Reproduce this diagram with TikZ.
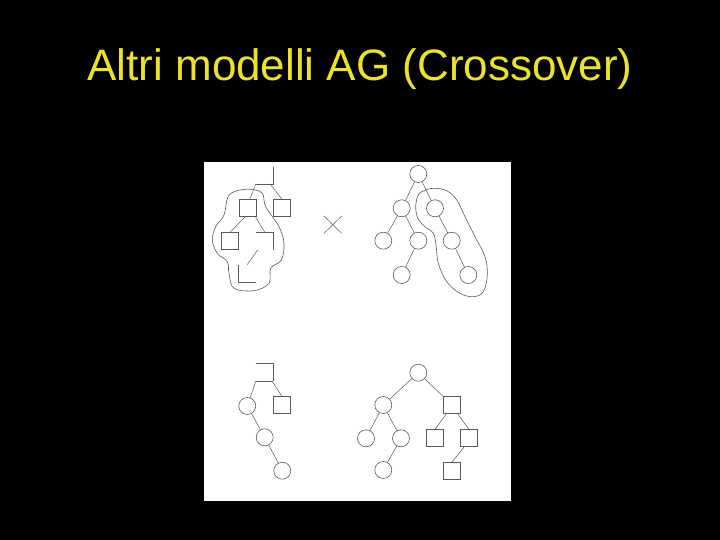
\documentclass[tikz,border=0pt]{standalone}
\usepackage{fontspec}
\setmainfont{Liberation Sans}
\definecolor{titleyellow}{RGB}{236,226,40}
\definecolor{linegray}{RGB}{90,90,90}
\begin{document}
\begin{tikzpicture}[x=1pt,y=-1pt,
  sq/.style={minimum size=17pt,inner sep=0pt,draw=none},
  sqbox/.style={sq,draw=linegray,line width=0.8pt},
  cir/.style={circle,minimum size=17pt,inner sep=0pt,draw=linegray,line width=0.6pt},
  edge/.style={draw=linegray,line width=0.5pt},
  part/.style={draw=linegray,line width=0.8pt},
  loop/.style={draw=linegray,line width=0.6pt}]
\useasboundingbox (0,0) rectangle (720,540);
\fill[black] (0,0) rectangle (720,540);
\node[font=\fontsize{44}{50}\selectfont,text=titleyellow,anchor=base] (title) at (360,81) {Altri modelli AG (Crossover)};
\fill[white] (204,162) rectangle (511,501);

% ---------- top-left tree ----------
\node[sq] (a1) at (264.5,175.3) {};
\draw[part] (a1.north east) -- (a1.south east) -- (a1.south west);
\node[sqbox] (a2) at (247.7,208.3) {};
\node[sqbox] (a3) at (282,208.3) {};
\node[sqbox] (a4) at (230.3,241) {};
\node[sq] (a5) at (264.8,241) {};
\draw[part] (a5.north west) -- (a5.north east) -- (a5.south east);
\node[sq] (a6) at (247.3,273.3) {};
\draw[part] (a6.north west) -- (a6.south west) -- (a6.south east);
\draw[edge] (a1.south west) -- ([xshift=2pt]a2.north);
\draw[edge] ([xshift=-3pt]a1.south east) -- (a3.north);
\draw[edge] ([xshift=-3pt]a2.south) -- (a4.north);
\draw[edge] ([xshift=-1pt]a2.south east) -- (a5.north);
\draw[edge] ([xshift=-7pt]a5.south) -- (a6.north);
\draw[loop] plot[smooth cycle,tension=0.6] coordinates {
  (250.7,189.3) (262.3,193.3) (265.7,206.7) (279,226.7) (284,243.3)
  (281.3,260) (270.7,268.3) (269,283.3) (254,290.7) (234,288.3)
  (229,273.3) (227.3,261.7) (217.3,253.3) (212.3,240) (215.7,226.7)
  (224,215) (228,196.7) (237.3,190.7)};

% ---------- cross ----------
\coordinate (x1) at (324,216);
\coordinate (x2) at (341.7,233.3);
\coordinate (x3) at (341.7,216);
\coordinate (x4) at (324,233.3);
\draw[edge] (x1) -- (x2);
\draw[edge] (x3) -- (x4);

% ---------- top-right tree ----------
\node[cir] (b1) at (418.3,174) {};
\node[cir] (b2) at (401.7,208.3) {};
\node[cir] (b3) at (435,208.3) {};
\node[cir] (b4) at (383.3,240.7) {};
\node[cir] (b5) at (418.3,240.7) {};
\node[cir] (b6) at (451.7,240.7) {};
\node[cir] (b7) at (401.7,275) {};
\node[cir] (b8) at (468.3,275) {};
\draw[edge] (b1) -- (b2);
\draw[edge] (b1) -- (b3);
\draw[edge] (b2) -- (b4);
\draw[edge] (b2) -- (b5);
\draw[edge] (b3) -- (b6);
\draw[edge] (b5) -- (b7);
\draw[edge] (b6) -- (b8);
\draw[loop] plot[smooth cycle,tension=0.6] coordinates {
  (421.7,191.7) (433.3,188.3) (446.7,190.7) (456.7,200) (465,216.7)
  (475,236.7) (485,256.7) (487.3,275) (483.3,291.7) (473.3,296.7)
  (460,293.3) (446.7,281.7) (438.3,263.3) (436,245) (433.3,233.3)
  (425,226.7) (418.3,219.3) (415.7,208.3) (417.3,197.3)};

% ---------- bottom-left tree ----------
\node[sq] (c1) at (264.5,372.5) {};
\draw[part] (c1.north west) -- (c1.north east) -- (c1.south east);
\draw[edge] (c1.south east) -- (c1.south west);
\node[cir] (c2) at (247.3,406) {};
\node[sqbox] (c3) at (282,405.3) {};
\node[cir] (c4) at (264.7,437.3) {};
\node[cir] (c5) at (282.3,470.7) {};
\draw[edge] (c1.south west) -- (c2);
\draw[edge] ([xshift=-1pt]c1.south east) -- (c3.north);
\draw[edge] (c2) -- (c4);
\draw[edge] (c4) -- (c5);

% ---------- bottom-right tree ----------
\node[cir] (d1) at (418.3,372.7) {};
\node[cir] (d2) at (383.3,405) {};
\node[sqbox] (d3) at (452,405.3) {};
\node[cir] (d4) at (366,438.3) {};
\node[cir] (d5) at (401,438.3) {};
\node[sqbox] (d6) at (435,438.3) {};
\node[sqbox] (d7) at (469,438.3) {};
\node[cir] (d8) at (383.3,470) {};
\node[sqbox] (d9) at (452,471) {};
\draw[edge] (d1) -- (d2);
\draw[edge] (d1) -- (d3.north west);
\draw[edge] (d2) -- (d4);
\draw[edge] (d2) -- (d5);
\draw[edge] ([xshift=3pt]d3.south west) -- (d6.north);
\draw[edge] ([xshift=-3pt]d3.south east) -- (d7.north);
\draw[edge] (d5) -- (d8);
\draw[edge] ([xshift=-5pt]d7.south) -- (d9.north);
\end{tikzpicture}
\end{document}
